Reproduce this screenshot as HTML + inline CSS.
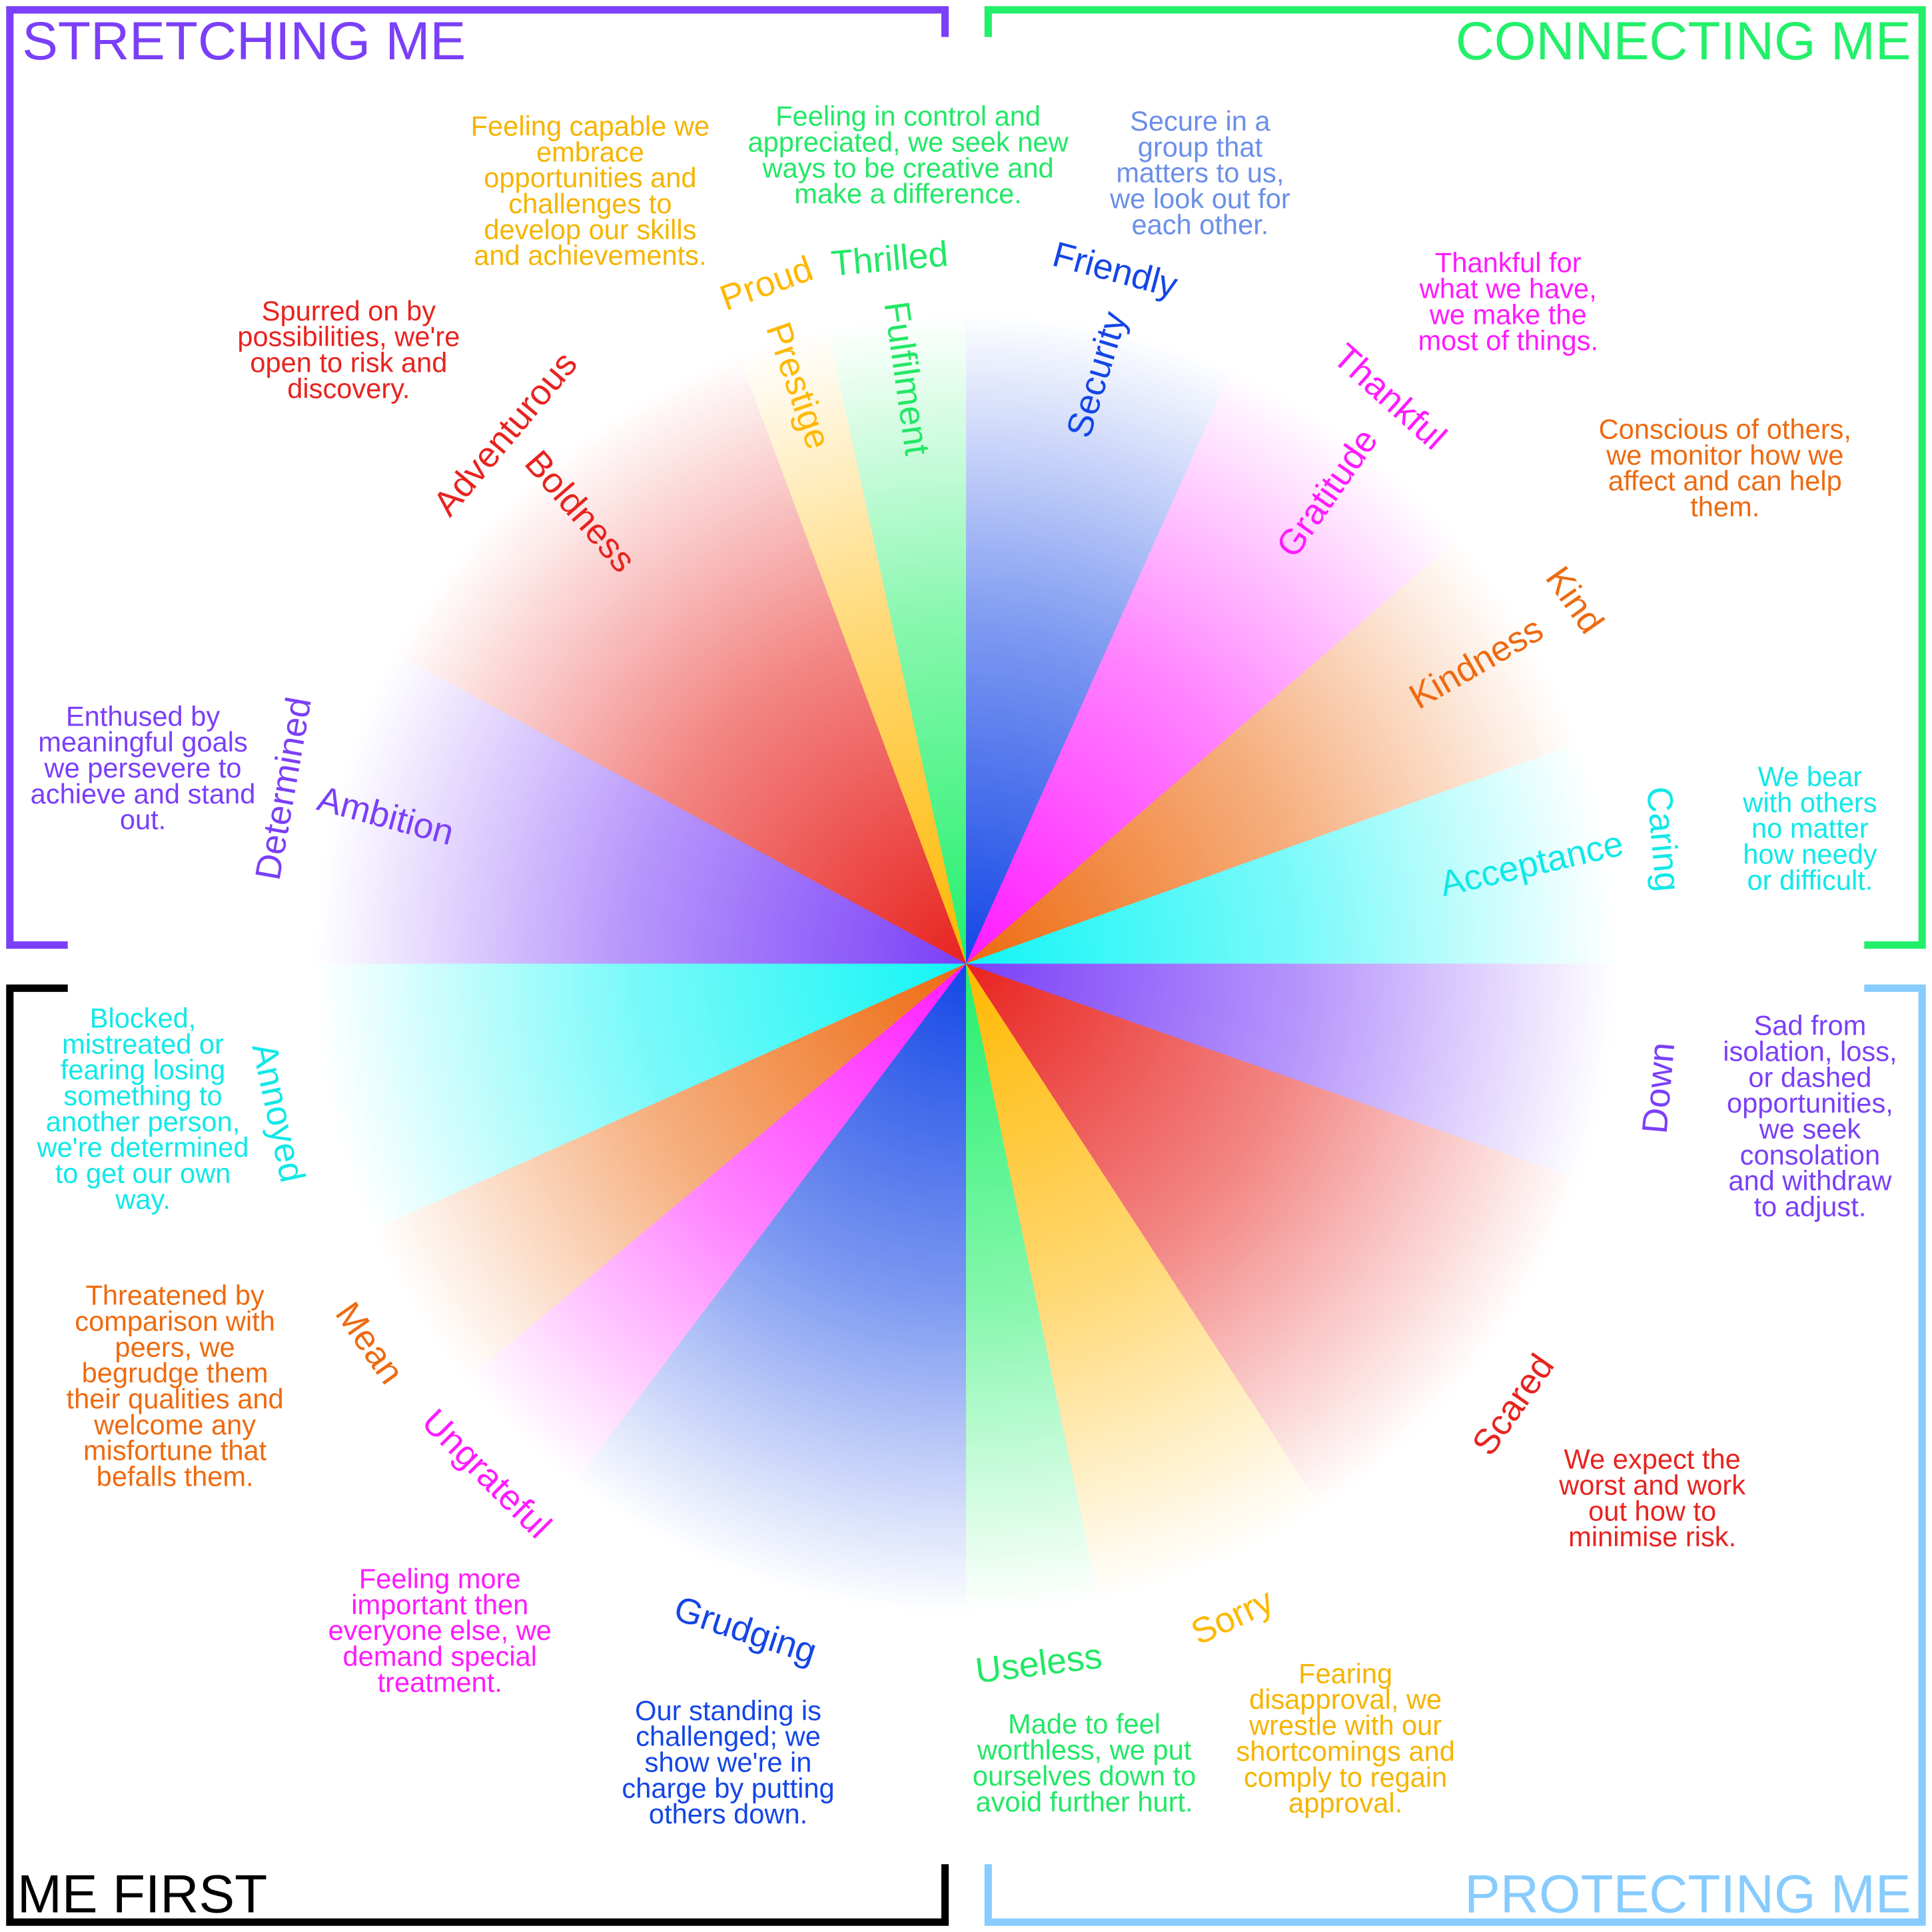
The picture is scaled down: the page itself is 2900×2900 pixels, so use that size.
<!DOCTYPE html>
<html><head><meta charset="utf-8"><style>
html,body{margin:0;padding:0;background:#fff;}
#wrap{width:1568px;height:1568px;position:relative;transform:scale(1.849490);transform-origin:0 0;overflow:hidden;background:#fff;}
#wheel{position:absolute;left:234px;top:232px;width:1100px;height:1100px;border-radius:50%;
background:conic-gradient(
#1446e6 0deg 24.1deg,#ff1aff 24.1deg 49.2deg,#ee6a10 49.2deg 70.2deg,#11f5f5 70.2deg 90deg,
#7b3ff8 90deg 109.4deg,#e8231f 109.4deg 146.9deg,#ffb800 146.9deg 168.2deg,#22f06a 168.2deg 180deg,
#1446e6 180deg 217deg,#ff1aff 217deg 230.2deg,#ee6a10 230.2deg 245.8deg,#11f5f5 245.8deg 270deg,
#7b3ff8 270deg 298.5deg,#e8231f 298.5deg 339.5deg,#ffb800 339.5deg 347.7deg,#22f06a 347.7deg 360deg);
-webkit-mask-image:radial-gradient(circle closest-side,rgba(0,0,0,1) 0%,rgba(0,0,0,0.55) 50%,rgba(0,0,0,0) 96%);
mask-image:radial-gradient(circle closest-side,rgba(0,0,0,1) 0%,rgba(0,0,0,0.55) 50%,rgba(0,0,0,0) 96%);}
svg{position:absolute;left:0;top:0;}
text{font-family:"Liberation Sans",Arial,sans-serif;}
.l{font-size:29px;text-anchor:middle;dominant-baseline:central;}
.d{font-size:22.5px;text-anchor:middle;}
.t{font-size:43.5px;}
</style></head><body><div id="wrap">
<div id="wheel"></div>
<svg width="1568" height="1568" viewBox="0 0 1568 1568">
<g fill="none" stroke-width="6">
<path d="M55 767 H8 V8 H767 V30" stroke="#7b3ff8"/>
<path d="M802 30 V8 H1560 V767 H1513" stroke="#22f06a"/>
<path d="M55 802 H8 V1560 H767 V1513" stroke="#000"/>
<path d="M1513 802 H1560 V1560 H802 V1513" stroke="#88ccff"/>
</g>
<text class="t" x="18" y="48" fill="#7b3ff8">STRETCHING ME</text>
<text class="t" x="1551" y="48" fill="#22f06a" text-anchor="end">CONNECTING ME</text>
<text class="t" x="14" y="1552" fill="#000">ME FIRST</text>
<text class="t" x="1551" y="1552" fill="#88ccff" text-anchor="end">PROTECTING ME</text>

<g class="l">
<text transform="translate(410,352) rotate(-50)" fill="#e8231f">Adventurous</text>
<text transform="translate(471,415) rotate(49)" fill="#e8231f">Boldness</text>
<text transform="translate(622,230) rotate(-20)" fill="#ffb800">Proud</text>
<text transform="translate(722,210) rotate(-5)" fill="#22e866">Thrilled</text>
<text transform="translate(648,313) rotate(71)" fill="#ffb800">Prestige</text>
<text transform="translate(736,307) rotate(82)" fill="#22e866">Fulfilment</text>
<text transform="translate(905,219) rotate(15)" fill="#1446e6">Friendly</text>
<text transform="translate(890,304) rotate(-73)" fill="#1446e6">Security</text>
<text transform="translate(1128,322) rotate(42)" fill="#ff1aff">Thankful</text>
<text transform="translate(1077,400) rotate(-55)" fill="#ff1aff">Gratitude</text>
<text transform="translate(1278,487) rotate(55)" fill="#ee6a10">Kind</text>
<text transform="translate(1198,538) rotate(-30)" fill="#ee6a10">Kindness</text>
<text transform="translate(1243,701) rotate(-13)" fill="#11e8e8">Acceptance</text>
<text transform="translate(1350,681) rotate(85)" fill="#11e8e8">Caring</text>
<text transform="translate(230,640) rotate(-80)" fill="#7b3ff8">Determined</text>
<text transform="translate(313,662) rotate(15)" fill="#7b3ff8">Ambition</text>
<text transform="translate(226,903) rotate(78)" fill="#11e8e8">Annoyed</text>
<text transform="translate(1346,883) rotate(-85)" fill="#7b3ff8">Down</text>
<text transform="translate(300,1090) rotate(55)" fill="#ee6a10">Mean</text>
<text transform="translate(395,1196) rotate(45)" fill="#ff1aff">Ungrateful</text>
<text transform="translate(1228,1140) rotate(-55)" fill="#e8231f">Scared</text>
<text transform="translate(605,1323) rotate(18)" fill="#1446e6">Grudging</text>
<text transform="translate(843,1350) rotate(-7)" fill="#22e866">Useless</text>
<text transform="translate(1000,1312) rotate(-25)" fill="#ffb800">Sorry</text>
</g>

<g class="d">
<text x="479" y="110" fill="#f5b400"><tspan x="479">Feeling capable we</tspan><tspan x="479" dy="21">embrace</tspan><tspan x="479" dy="21">opportunities and</tspan><tspan x="479" dy="21">challenges to</tspan><tspan x="479" dy="21">develop our skills</tspan><tspan x="479" dy="21">and achievements.</tspan></text>
<text x="737" y="102" fill="#22e866"><tspan x="737">Feeling in control and</tspan><tspan x="737" dy="21">appreciated, we seek new</tspan><tspan x="737" dy="21">ways to be creative and</tspan><tspan x="737" dy="21">make a difference.</tspan></text>
<text x="974" y="106" fill="#6b8fe8"><tspan x="974">Secure in a</tspan><tspan x="974" dy="21">group that</tspan><tspan x="974" dy="21">matters to us,</tspan><tspan x="974" dy="21">we look out for</tspan><tspan x="974" dy="21">each other.</tspan></text>
<text x="1224" y="221" fill="#ff1aff"><tspan x="1224">Thankful for</tspan><tspan x="1224" dy="21">what we have,</tspan><tspan x="1224" dy="21">we make the</tspan><tspan x="1224" dy="21">most of things.</tspan></text>
<text x="1400" y="356" fill="#ee6a10"><tspan x="1400">Conscious of others,</tspan><tspan x="1400" dy="21">we monitor how we</tspan><tspan x="1400" dy="21">affect and can help</tspan><tspan x="1400" dy="21">them.</tspan></text>
<text x="1469" y="638" fill="#11e8e8"><tspan x="1469">We bear</tspan><tspan x="1469" dy="21">with others</tspan><tspan x="1469" dy="21">no matter</tspan><tspan x="1469" dy="21">how needy</tspan><tspan x="1469" dy="21">or difficult.</tspan></text>
<text x="283" y="260" fill="#e8231f"><tspan x="283">Spurred on by</tspan><tspan x="283" dy="21">possibilities, we're</tspan><tspan x="283" dy="21">open to risk and</tspan><tspan x="283" dy="21">discovery.</tspan></text>
<text x="116" y="589" fill="#7b3ff8"><tspan x="116">Enthused by</tspan><tspan x="116" dy="21">meaningful goals</tspan><tspan x="116" dy="21">we persevere to</tspan><tspan x="116" dy="21">achieve and stand</tspan><tspan x="116" dy="21">out.</tspan></text>
<text x="116" y="834" fill="#11e8e8"><tspan x="116">Blocked,</tspan><tspan x="116" dy="21">mistreated or</tspan><tspan x="116" dy="21">fearing losing</tspan><tspan x="116" dy="21">something to</tspan><tspan x="116" dy="21">another person,</tspan><tspan x="116" dy="21">we're determined</tspan><tspan x="116" dy="21">to get our own</tspan><tspan x="116" dy="21">way.</tspan></text>
<text x="142" y="1059" fill="#ee6a10"><tspan x="142">Threatened by</tspan><tspan x="142" dy="21">comparison with</tspan><tspan x="142" dy="21">peers, we</tspan><tspan x="142" dy="21">begrudge them</tspan><tspan x="142" dy="21">their qualities and</tspan><tspan x="142" dy="21">welcome any</tspan><tspan x="142" dy="21">misfortune that</tspan><tspan x="142" dy="21">befalls them.</tspan></text>
<text x="357" y="1289" fill="#ff1aff"><tspan x="357">Feeling more</tspan><tspan x="357" dy="21">important then</tspan><tspan x="357" dy="21">everyone else, we</tspan><tspan x="357" dy="21">demand special</tspan><tspan x="357" dy="21">treatment.</tspan></text>
<text x="591" y="1396" fill="#1446e6"><tspan x="591">Our standing is</tspan><tspan x="591" dy="21">challenged; we</tspan><tspan x="591" dy="21">show we're in</tspan><tspan x="591" dy="21">charge by putting</tspan><tspan x="591" dy="21">others down.</tspan></text>
<text x="880" y="1407" fill="#22e866"><tspan x="880">Made to feel</tspan><tspan x="880" dy="21">worthless, we put</tspan><tspan x="880" dy="21">ourselves down to</tspan><tspan x="880" dy="21">avoid further hurt.</tspan></text>
<text x="1092" y="1366" fill="#f5b400"><tspan x="1092">Fearing</tspan><tspan x="1092" dy="21">disapproval,  we</tspan><tspan x="1092" dy="21">wrestle with our</tspan><tspan x="1092" dy="21">shortcomings and</tspan><tspan x="1092" dy="21">comply to regain</tspan><tspan x="1092" dy="21">approval.</tspan></text>
<text x="1341" y="1192" fill="#e8231f"><tspan x="1341">We expect the</tspan><tspan x="1341" dy="21">worst and work</tspan><tspan x="1341" dy="21">out how to</tspan><tspan x="1341" dy="21">minimise risk.</tspan></text>
<text x="1469" y="840" fill="#7b3ff8"><tspan x="1469">Sad from</tspan><tspan x="1469" dy="21">isolation, loss,</tspan><tspan x="1469" dy="21">or dashed</tspan><tspan x="1469" dy="21">opportunities,</tspan><tspan x="1469" dy="21">we seek</tspan><tspan x="1469" dy="21">consolation</tspan><tspan x="1469" dy="21">and withdraw</tspan><tspan x="1469" dy="21">to adjust.</tspan></text>
</g>
</svg>
</div></body></html>
